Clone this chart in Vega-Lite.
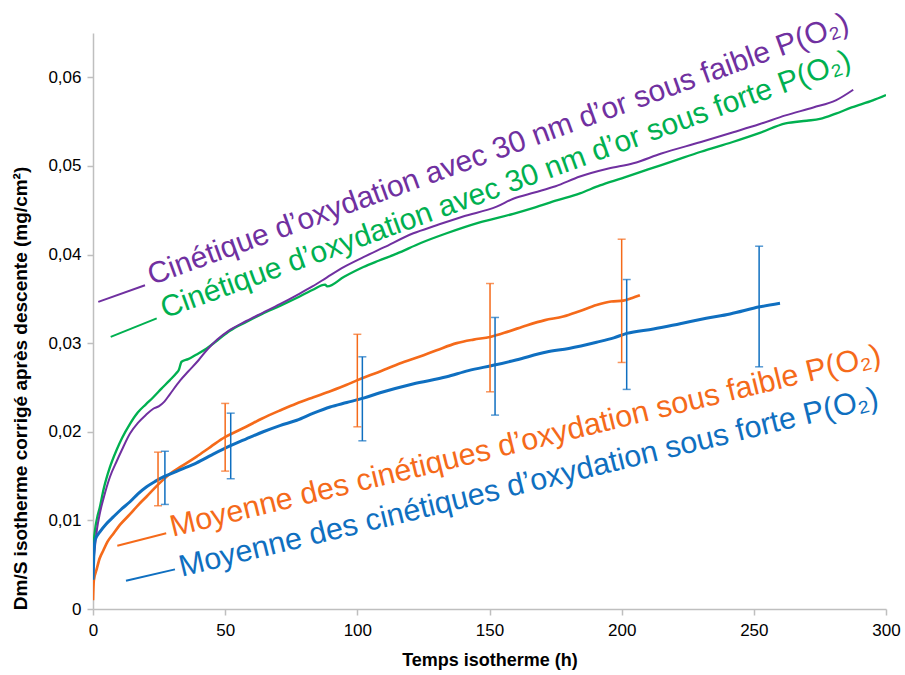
{
  "$schema": "https://vega.github.io/schema/vega-lite/v6.json",
  "width": 793,
  "height": 576,
  "autosize": {"type": "none"},
  "padding": {"left": 93, "top": 33, "right": 19, "bottom": 66},
  "background": "white",
  "config": {"view": {"stroke": null}, "font": "Liberation Sans"},
  "datasets": {
    "curves": [
      {"s": "g", "t": 0, "v": 0.0055}, {"s": "g", "t": 0.3, "v": 0.0075}, {"s": "g", "t": 0.76, "v": 0.0089}, {"s": "g", "t": 1.5, "v": 0.0102}, {"s": "g", "t": 2.6, "v": 0.0115}, {"s": "g", "t": 4, "v": 0.0135}, {"s": "g", "t": 6.4, "v": 0.016}, {"s": "g", "t": 9, "v": 0.018}, {"s": "g", "t": 11, "v": 0.0193}, {"s": "g", "t": 14, "v": 0.0209}, {"s": "g", "t": 17, "v": 0.0222}, {"s": "g", "t": 20, "v": 0.0231}, {"s": "g", "t": 22.8, "v": 0.0239}, {"s": "g", "t": 26, "v": 0.0249}, {"s": "g", "t": 29, "v": 0.0258}, {"s": "g", "t": 31.5, "v": 0.0266}, {"s": "g", "t": 32.5, "v": 0.027}, {"s": "g", "t": 33.5, "v": 0.0279}, {"s": "g", "t": 36, "v": 0.0282}, {"s": "g", "t": 39, "v": 0.0287}, {"s": "g", "t": 43, "v": 0.0294}, {"s": "g", "t": 47, "v": 0.0303}, {"s": "g", "t": 51.8, "v": 0.0314}, {"s": "g", "t": 58, "v": 0.0324}, {"s": "g", "t": 64, "v": 0.0333}, {"s": "g", "t": 70.7, "v": 0.0342}, {"s": "g", "t": 77, "v": 0.0351}, {"s": "g", "t": 83, "v": 0.036}, {"s": "g", "t": 87.8, "v": 0.0366}, {"s": "g", "t": 88.6, "v": 0.0364}, {"s": "g", "t": 95, "v": 0.0375}, {"s": "g", "t": 102.3, "v": 0.0386}, {"s": "g", "t": 108, "v": 0.0393}, {"s": "g", "t": 114.9, "v": 0.0401}, {"s": "g", "t": 124, "v": 0.0413}, {"s": "g", "t": 133.8, "v": 0.0424}, {"s": "g", "t": 146, "v": 0.0436}, {"s": "g", "t": 159, "v": 0.0446}, {"s": "g", "t": 167, "v": 0.0453}, {"s": "g", "t": 175.4, "v": 0.0461}, {"s": "g", "t": 184.2, "v": 0.0469}, {"s": "g", "t": 191.8, "v": 0.0478}, {"s": "g", "t": 200, "v": 0.0486}, {"s": "g", "t": 210, "v": 0.0496}, {"s": "g", "t": 220, "v": 0.0506}, {"s": "g", "t": 230, "v": 0.0516}, {"s": "g", "t": 242, "v": 0.0527}, {"s": "g", "t": 252, "v": 0.0537}, {"s": "g", "t": 262, "v": 0.0548}, {"s": "g", "t": 270, "v": 0.0551}, {"s": "g", "t": 275, "v": 0.0553}, {"s": "g", "t": 281, "v": 0.0559}, {"s": "g", "t": 287, "v": 0.0566}, {"s": "g", "t": 295, "v": 0.0574}, {"s": "g", "t": 300, "v": 0.058},
      {"s": "p", "t": 0, "v": 0.0025}, {"s": "p", "t": 0.3, "v": 0.0055}, {"s": "p", "t": 0.8, "v": 0.0072}, {"s": "p", "t": 1.5, "v": 0.009}, {"s": "p", "t": 2.6, "v": 0.0108}, {"s": "p", "t": 4, "v": 0.0125}, {"s": "p", "t": 6.4, "v": 0.0149}, {"s": "p", "t": 9, "v": 0.0167}, {"s": "p", "t": 11, "v": 0.018}, {"s": "p", "t": 14, "v": 0.0198}, {"s": "p", "t": 17, "v": 0.021}, {"s": "p", "t": 20, "v": 0.0219}, {"s": "p", "t": 22.8, "v": 0.0226}, {"s": "p", "t": 25, "v": 0.0229}, {"s": "p", "t": 27, "v": 0.0234}, {"s": "p", "t": 29, "v": 0.0242}, {"s": "p", "t": 33, "v": 0.0258}, {"s": "p", "t": 36, "v": 0.0268}, {"s": "p", "t": 40, "v": 0.0281}, {"s": "p", "t": 43, "v": 0.0292}, {"s": "p", "t": 47, "v": 0.0304}, {"s": "p", "t": 51.8, "v": 0.0315}, {"s": "p", "t": 58, "v": 0.0325}, {"s": "p", "t": 64, "v": 0.0334}, {"s": "p", "t": 70.7, "v": 0.0344}, {"s": "p", "t": 77, "v": 0.0354}, {"s": "p", "t": 83, "v": 0.0364}, {"s": "p", "t": 88.4, "v": 0.0374}, {"s": "p", "t": 95, "v": 0.0386}, {"s": "p", "t": 102.3, "v": 0.0397}, {"s": "p", "t": 110, "v": 0.0408}, {"s": "p", "t": 121.2, "v": 0.0424}, {"s": "p", "t": 130, "v": 0.0433}, {"s": "p", "t": 140, "v": 0.0443}, {"s": "p", "t": 152.7, "v": 0.0454}, {"s": "p", "t": 159, "v": 0.0463}, {"s": "p", "t": 167, "v": 0.047}, {"s": "p", "t": 175, "v": 0.0477}, {"s": "p", "t": 184.2, "v": 0.0488}, {"s": "p", "t": 195, "v": 0.0497}, {"s": "p", "t": 204.4, "v": 0.0503}, {"s": "p", "t": 215, "v": 0.0514}, {"s": "p", "t": 230, "v": 0.0527}, {"s": "p", "t": 242.2, "v": 0.0538}, {"s": "p", "t": 252, "v": 0.0547}, {"s": "p", "t": 262, "v": 0.0557}, {"s": "p", "t": 272.5, "v": 0.0566}, {"s": "p", "t": 281, "v": 0.0574}, {"s": "p", "t": 287.6, "v": 0.0586},
      {"s": "o", "t": 0, "v": 0.001}, {"s": "o", "t": 0.3, "v": 0.0032}, {"s": "o", "t": 1.4, "v": 0.0045}, {"s": "o", "t": 2.5, "v": 0.0057}, {"s": "o", "t": 3.9, "v": 0.0066}, {"s": "o", "t": 5.5, "v": 0.0076}, {"s": "o", "t": 7.7, "v": 0.0085}, {"s": "o", "t": 10.5, "v": 0.0096}, {"s": "o", "t": 14, "v": 0.0107}, {"s": "o", "t": 17, "v": 0.0117}, {"s": "o", "t": 20.3, "v": 0.0127}, {"s": "o", "t": 23.5, "v": 0.0137}, {"s": "o", "t": 26.6, "v": 0.0146}, {"s": "o", "t": 29.8, "v": 0.0154}, {"s": "o", "t": 32.9, "v": 0.016}, {"s": "o", "t": 39.2, "v": 0.0172}, {"s": "o", "t": 44.5, "v": 0.0183}, {"s": "o", "t": 49.9, "v": 0.0194}, {"s": "o", "t": 54, "v": 0.02}, {"s": "o", "t": 58.1, "v": 0.0206}, {"s": "o", "t": 64, "v": 0.0215}, {"s": "o", "t": 70.7, "v": 0.0224}, {"s": "o", "t": 77, "v": 0.0232}, {"s": "o", "t": 83.4, "v": 0.0239}, {"s": "o", "t": 90, "v": 0.0246}, {"s": "o", "t": 96, "v": 0.0253}, {"s": "o", "t": 99.8, "v": 0.0258}, {"s": "o", "t": 104, "v": 0.0263}, {"s": "o", "t": 108.6, "v": 0.0268}, {"s": "o", "t": 116, "v": 0.0277}, {"s": "o", "t": 123.7, "v": 0.0285}, {"s": "o", "t": 130, "v": 0.0292}, {"s": "o", "t": 137.6, "v": 0.03}, {"s": "o", "t": 144, "v": 0.0304}, {"s": "o", "t": 150.2, "v": 0.0307}, {"s": "o", "t": 157, "v": 0.0313}, {"s": "o", "t": 164, "v": 0.032}, {"s": "o", "t": 171, "v": 0.0326}, {"s": "o", "t": 177.9, "v": 0.033}, {"s": "o", "t": 184, "v": 0.0336}, {"s": "o", "t": 190.5, "v": 0.0343}, {"s": "o", "t": 196, "v": 0.0347}, {"s": "o", "t": 200.6, "v": 0.0348}, {"s": "o", "t": 204, "v": 0.0351}, {"s": "o", "t": 206.9, "v": 0.0354},
      {"s": "b", "t": 0, "v": 0.0033}, {"s": "b", "t": 0.3, "v": 0.006}, {"s": "b", "t": 0.8, "v": 0.0078}, {"s": "b", "t": 2.6, "v": 0.0087}, {"s": "b", "t": 5, "v": 0.0096}, {"s": "b", "t": 7.7, "v": 0.0104}, {"s": "b", "t": 10.5, "v": 0.0112}, {"s": "b", "t": 14, "v": 0.0121}, {"s": "b", "t": 17, "v": 0.013}, {"s": "b", "t": 20.3, "v": 0.0138}, {"s": "b", "t": 23.5, "v": 0.0144}, {"s": "b", "t": 26.6, "v": 0.0149}, {"s": "b", "t": 29.8, "v": 0.0153}, {"s": "b", "t": 32.9, "v": 0.0157}, {"s": "b", "t": 39.2, "v": 0.0165}, {"s": "b", "t": 45, "v": 0.0174}, {"s": "b", "t": 51.8, "v": 0.0184}, {"s": "b", "t": 58, "v": 0.0192}, {"s": "b", "t": 64.4, "v": 0.02}, {"s": "b", "t": 70.7, "v": 0.0207}, {"s": "b", "t": 77.1, "v": 0.0213}, {"s": "b", "t": 83.4, "v": 0.0221}, {"s": "b", "t": 89.7, "v": 0.0228}, {"s": "b", "t": 96, "v": 0.0233}, {"s": "b", "t": 102.3, "v": 0.0238}, {"s": "b", "t": 108.6, "v": 0.0244}, {"s": "b", "t": 121, "v": 0.0254}, {"s": "b", "t": 133.8, "v": 0.0262}, {"s": "b", "t": 142, "v": 0.0269}, {"s": "b", "t": 151.4, "v": 0.0275}, {"s": "b", "t": 160, "v": 0.0281}, {"s": "b", "t": 171.6, "v": 0.029}, {"s": "b", "t": 180, "v": 0.0294}, {"s": "b", "t": 190.5, "v": 0.0301}, {"s": "b", "t": 197, "v": 0.0306}, {"s": "b", "t": 201.9, "v": 0.0311}, {"s": "b", "t": 212, "v": 0.0316}, {"s": "b", "t": 222.1, "v": 0.0322}, {"s": "b", "t": 232, "v": 0.0328}, {"s": "b", "t": 241, "v": 0.0333}, {"s": "b", "t": 252.3, "v": 0.0341}, {"s": "b", "t": 259.9, "v": 0.0345}
    ],
    "bars": [
      {"s": "o", "t": 24.6, "lo": 0.01165, "hi": 0.0177},
      {"s": "o", "t": 50, "lo": 0.01556, "hi": 0.0232},
      {"s": "o", "t": 100, "lo": 0.02056, "hi": 0.031},
      {"s": "o", "t": 150.2, "lo": 0.02451, "hi": 0.03673},
      {"s": "o", "t": 200, "lo": 0.02782, "hi": 0.04173},
      {"s": "b", "t": 27.2, "lo": 0.0118, "hi": 0.0178},
      {"s": "b", "t": 52.1, "lo": 0.0147, "hi": 0.0221},
      {"s": "b", "t": 101.9, "lo": 0.01898, "hi": 0.02846},
      {"s": "b", "t": 152.1, "lo": 0.02188, "hi": 0.0329},
      {"s": "b", "t": 201.9, "lo": 0.02478, "hi": 0.03718},
      {"s": "b", "t": 252, "lo": 0.02733, "hi": 0.04094}
    ],
    "labels": [
      {"s": "p", "grp": "top", "t": 22.3, "v": 0.03654, "t1": 2.0, "v1": 0.03466, "t2": 19.67, "v2": 0.03654, "text": "Cinétique d’oxydation avec 30 nm d’or sous faible P(O₂)"},
      {"s": "g", "grp": "top", "t": 27.2, "v": 0.03279, "t1": 6.7, "v1": 0.03071, "t2": 24.1, "v2": 0.03279, "text": "Cinétique d’oxydation avec 30 nm d’or sous forte P(O₂)"},
      {"s": "o", "grp": "bottom", "t": 30.15, "v": 0.00815, "t1": 9.19, "v1": 0.00714, "t2": 27.7, "v2": 0.00854, "text": "Moyenne des cinétiques d’oxydation sous faible P(O₂)"},
      {"s": "b", "grp": "bottom", "t": 33.56, "v": 0.00364, "t1": 12.48, "v1": 0.00319, "t2": 31.0, "v2": 0.00447, "text": "Moyenne des cinétiques d’oxydation sous forte P(O₂)"}
    ]
  },
  "layer": [
    {
      "data": {"name": "curves"},
      "mark": {"type": "line", "interpolate": "monotone", "clip": true},
      "encoding": {
        "x": {
          "field": "t", "type": "quantitative",
          "title": "Temps isotherme (h)",
          "scale": {"domain": [0, 300], "nice": false},
          "axis": {
            "values": [0, 50, 100, 150, 200, 250, 300],
            "grid": false,
            "domainColor": "#bfbfbf", "domainWidth": 1.5,
            "tickColor": "#bfbfbf", "tickWidth": 1.5, "tickSize": 6,
            "labelFont": "Liberation Sans", "labelFontSize": 17, "labelColor": "#000000", "labelPadding": 7,
            "labelFlush": false,
            "titleFont": "Liberation Sans", "titleFontSize": 18, "titleFontWeight": "bold", "titleColor": "#000000", "titlePadding": 13
          }
        },
        "y": {
          "field": "v", "type": "quantitative",
          "title": "Dm/S isotherme corrigé après descente (mg/cm²)",
          "scale": {"domain": [0, 0.065], "nice": false},
          "axis": {
            "values": [0, 0.01, 0.02, 0.03, 0.04, 0.05, 0.06],
            "labelExpr": "datum.value == 0 ? '0' : replace(format(datum.value, '.2f'), '.', ',')",
            "grid": false,
            "domainColor": "#bfbfbf", "domainWidth": 1.5,
            "tickColor": "#bfbfbf", "tickWidth": 1.5, "tickSize": 6,
            "labelFont": "Liberation Sans", "labelFontSize": 17, "labelColor": "#000000", "labelPadding": 6,
            "labelFlush": false,
            "titleFont": "Liberation Sans", "titleFontSize": 19, "titleFontWeight": "bold", "titleColor": "#000000",
            "titleX": -73, "titleY": 355, "titleAlign": "center", "titleBaseline": "middle", "titleAngle": 270
          }
        },
        "color": {
          "field": "s", "type": "nominal", "legend": null,
          "scale": {"domain": ["p", "g", "o", "b"], "range": ["#7030a0", "#00b050", "#f56a1a", "#0f6fc0"]}
        },
        "strokeWidth": {
          "field": "s", "type": "nominal", "legend": null,
          "scale": {"domain": ["p", "g", "o", "b"], "range": [2, 3, 3, 3]}
        },
        "order": {"field": "t", "type": "quantitative"}
      }
    },
    {
      "data": {"name": "bars"},
      "mark": {"type": "errorbar", "orient": "vertical", "thickness": 1.5, "ticks": {"size": 8, "thickness": 1.5}},
      "encoding": {
        "x": {"field": "t", "type": "quantitative", "title": "Temps isotherme (h)"},
        "y": {"field": "lo", "type": "quantitative", "title": "Dm/S isotherme corrigé après descente (mg/cm²)"},
        "y2": {"field": "hi"},
        "color": {"field": "s", "type": "nominal", "legend": null,
          "scale": {"domain": ["p", "g", "o", "b"], "range": ["#7030a0", "#00b050", "#f56a1a", "#0f6fc0"]}}
      }
    },
    {
      "data": {"name": "labels"},
      "mark": {"type": "rule", "strokeWidth": 2},
      "encoding": {
        "x": {"field": "t1", "type": "quantitative", "title": "Temps isotherme (h)"},
        "y": {"field": "v1", "type": "quantitative", "title": "Dm/S isotherme corrigé après descente (mg/cm²)"},
        "x2": {"field": "t2"},
        "y2": {"field": "v2"},
        "color": {"field": "s", "type": "nominal", "legend": null,
          "scale": {"domain": ["p", "g", "o", "b"], "range": ["#7030a0", "#00b050", "#f56a1a", "#0f6fc0"]}}
      }
    },
    {
      "data": {"name": "labels"},
      "transform": [{"filter": "datum.grp == 'top'"}],
      "mark": {"type": "text", "align": "left", "baseline": "alphabetic", "angle": 340, "fontSize": 30, "font": "Liberation Sans"},
      "encoding": {
        "x": {"field": "t", "type": "quantitative", "title": "Temps isotherme (h)"},
        "y": {"field": "v", "type": "quantitative", "title": "Dm/S isotherme corrigé après descente (mg/cm²)"},
        "text": {"field": "text"},
        "color": {"field": "s", "type": "nominal", "legend": null,
          "scale": {"domain": ["p", "g", "o", "b"], "range": ["#7030a0", "#00b050", "#f56a1a", "#0f6fc0"]}}
      }
    },
    {
      "data": {"name": "labels"},
      "transform": [{"filter": "datum.grp == 'bottom'"}],
      "mark": {"type": "text", "align": "left", "baseline": "alphabetic", "angle": 346.3, "fontSize": 30.5, "font": "Liberation Sans"},
      "encoding": {
        "x": {"field": "t", "type": "quantitative", "title": "Temps isotherme (h)"},
        "y": {"field": "v", "type": "quantitative", "title": "Dm/S isotherme corrigé après descente (mg/cm²)"},
        "text": {"field": "text"},
        "color": {"field": "s", "type": "nominal", "legend": null,
          "scale": {"domain": ["p", "g", "o", "b"], "range": ["#7030a0", "#00b050", "#f56a1a", "#0f6fc0"]}}
      }
    }
  ]
}
